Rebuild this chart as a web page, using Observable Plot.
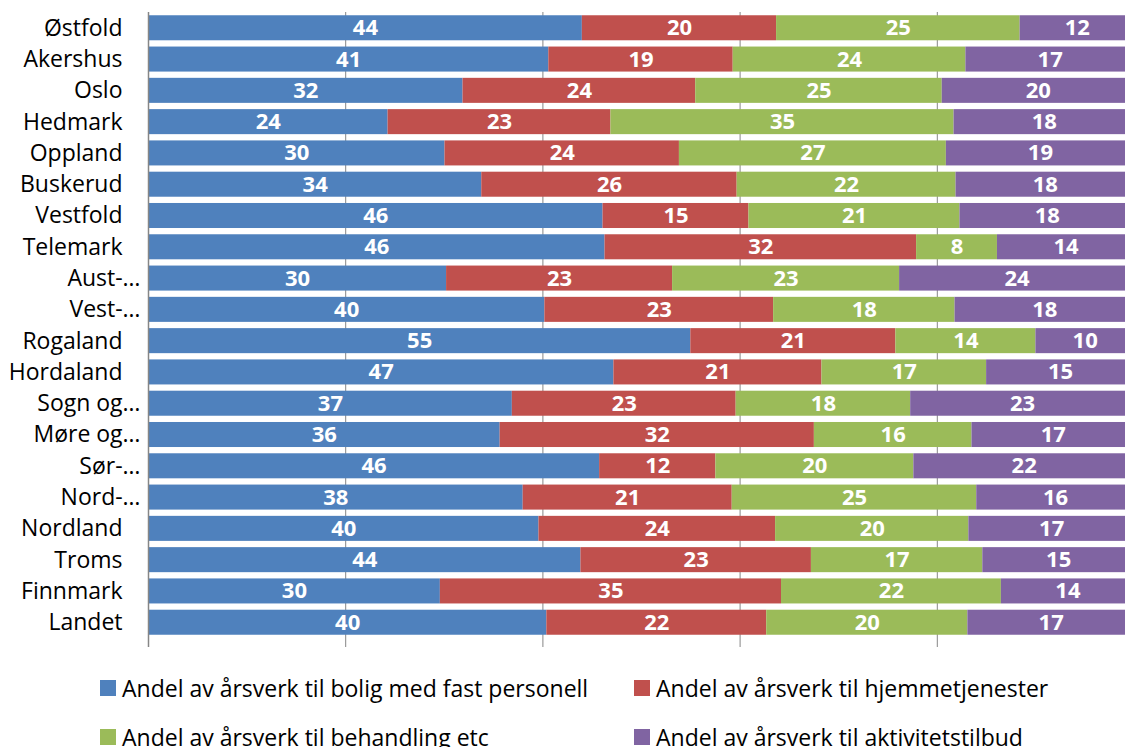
<!DOCTYPE html>
<html>
<head>
<meta charset="utf-8">
<script src="https://cdn.jsdelivr.net/npm/d3@7"></script>
<script src="https://cdn.jsdelivr.net/npm/@observablehq/plot@0.6"></script>
<style>
  html, body { margin: 0; padding: 0; background: white; overflow: hidden; }
  #wrap { width: 1125px; overflow: hidden; }
  #chart svg { max-width: none !important; display: block; }
  #legend { position: relative; width: 1125px; height: 87px; font-family: "Open Sans", sans-serif; font-size: 23px; color: #000; }
  .item { position: absolute; display: flex; align-items: center; height: 30px; white-space: nowrap; }
  .sw { width: 16px; height: 16px; margin-right: 6px; flex: none; }
</style>
</head>
<body>
<div id="wrap">
  <div id="chart"></div>
  <div id="legend"></div>
</div>
<script>
const regions = ["Østfold","Akershus","Oslo","Hedmark","Oppland","Buskerud","Vestfold","Telemark","Aust-…","Vest-…","Rogaland","Hordaland","Sogn og…","Møre og…","Sør-…","Nord-…","Nordland","Troms","Finnmark","Landet"];

const seriesNames = [
  "Andel av årsverk til bolig med fast personell",
  "Andel av årsverk til hjemmetjenester",
  "Andel av årsverk til behandling etc",
  "Andel av årsverk til aktivitetstilbud"
];
const colors = ["#4F81BD", "#C0504D", "#9BBB59", "#8064A2"];

const bolig  = [44.0, 40.6, 31.9, 24.3, 30.1, 33.8, 46.1, 46.3, 30.2, 40.2, 55.0, 47.2, 36.9, 35.7, 45.8, 38.0, 39.6, 43.9, 29.6, 40.4];
const hjem   = [19.7, 18.7, 23.6, 22.6, 23.8, 25.9, 14.8, 31.6, 22.9, 23.2, 20.8, 21.1, 22.7, 31.9, 11.8, 21.2, 24.0, 23.4, 34.6, 22.3];
const beh    = [24.7, 23.6, 25.0, 34.8, 27.1, 22.2, 21.4,  8.2, 23.0, 18.4, 14.2, 16.7, 17.7, 16.0, 20.1, 24.8, 19.6, 17.4, 22.3, 20.4];
const akt    = [11.6, 17.1, 19.5, 18.3, 19.1, 18.1, 17.7, 13.9, 23.8, 18.2, 10.0, 15.0, 22.7, 16.5, 22.4, 16.0, 16.8, 15.4, 13.5, 16.9];
const seriesValues = [bolig, hjem, beh, akt];

const gridTicks = [0.2, 0.4, 0.6, 0.8];

const data = seriesNames.flatMap((s, i) =>
  regions.map((r, j) => ({region: r, series: s, value: seriesValues[i][j]}))
);

const truncated = regions.filter(r => r.endsWith("…"));
const full = regions.filter(r => !r.endsWith("…"));

const stackOpts = {x: "value", y: "region", z: "series", order: seriesNames, offset: "normalize"};

const chart = Plot.plot({
  width: 1134,
  height: 660,
  marginLeft: 148,
  marginRight: 0,
  marginTop: 9,
  marginBottom: 19,
  x: {domain: [0, 1], axis: null},
  y: {domain: regions, padding: 0.2, round: false, axis: null},
  color: {domain: seriesNames, range: colors},
  style: {fontFamily: "'Open Sans', sans-serif", background: "white", overflow: "hidden"},
  marks: [
    Plot.ruleX(gridTicks, {x: d => d, stroke: "#868686", strokeWidth: 1, insetTop: 3, insetBottom: -6}),
    Plot.barX(data, Plot.stackX({...stackOpts, fill: "series"})),
    Plot.text(data, Plot.stackX({...stackOpts, text: d => Math.round(d.value), fill: "white", fontWeight: "bold", fontSize: 22})),
    Plot.ruleX([0], {x: d => d, stroke: "#868686", strokeWidth: 1.5, insetTop: 3, insetBottom: -6}),
    Plot.text(full, {y: d => d, text: d => d, frameAnchor: "left", textAnchor: "end", dx: -26, fontSize: 23, fill: "black"}),
    Plot.text(truncated, {y: d => d, text: d => d, frameAnchor: "left", textAnchor: "end", dx: -8, fontSize: 23, fill: "black"})
  ]
});
document.getElementById("chart").appendChild(chart);

// Legend
const legend = document.getElementById("legend");
const legendCols = [100, 634];
const legendRowTops = [13, 62];
seriesNames.forEach((s, i) => {
  const item = document.createElement("div");
  item.className = "item";
  item.style.left = legendCols[i % 2] + "px";
  item.style.top = legendRowTops[Math.floor(i / 2)] + "px";
  const sw = document.createElement("span");
  sw.className = "sw";
  sw.style.background = colors[i];
  const t = document.createElement("span");
  t.textContent = s;
  item.appendChild(sw);
  item.appendChild(t);
  legend.appendChild(item);
});
</script>
</body>
</html>
